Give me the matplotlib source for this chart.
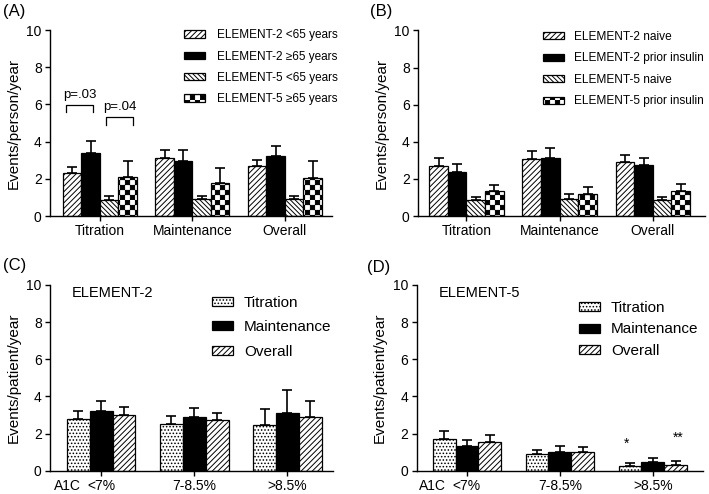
import numpy as np
import matplotlib
matplotlib.use("Agg")
import matplotlib.pyplot as plt
import matplotlib.hatch as mhatch
from matplotlib.path import Path

plt.rcParams['font.family'] = ['Liberation Sans', 'DejaVu Sans']
plt.rcParams['hatch.linewidth'] = 0.7

# ---------------- data ----------------
cats_ab = ['Titration', 'Maintenance', 'Overall']
labels_a = ['ELEMENT-2 <65 years', 'ELEMENT-2 \u226565 years',
            'ELEMENT-5 <65 years', 'ELEMENT-5 \u226565 years']
a_e2_lt65 = [2.32, 3.13, 2.69]
a_e2_lt65_err = [0.32, 0.43, 0.32]
a_e2_ge65 = [3.40, 2.96, 3.23]
a_e2_ge65_err = [0.64, 0.57, 0.51]
a_e5_lt65 = [0.88, 0.90, 0.92]
a_e5_lt65_err = [0.18, 0.18, 0.16]
a_e5_ge65 = [2.10, 1.78, 2.06]
a_e5_ge65_err = [0.86, 0.82, 0.90]

labels_b = ['ELEMENT-2 naive', 'ELEMENT-2 prior insulin',
            'ELEMENT-5 naive', 'ELEMENT-5 prior insulin']
b_e2_naive = [2.72, 3.08, 2.91]
b_e2_naive_err = [0.38, 0.42, 0.36]
b_e2_prior = [2.37, 3.11, 2.73]
b_e2_prior_err = [0.42, 0.53, 0.37]
b_e5_naive = [0.84, 0.91, 0.86]
b_e5_naive_err = [0.21, 0.25, 0.19]
b_e5_prior = [1.34, 1.20, 1.36]
b_e5_prior_err = [0.34, 0.35, 0.35]

cats_cd = ['<7%', '7-8.5%', '>8.5%']
labels_cd = ['Titration', 'Maintenance', 'Overall']
c_tit = [2.78, 2.53, 2.44]
c_tit_err = [0.43, 0.41, 0.86]
c_mai = [3.19, 2.87, 3.12]
c_mai_err = [0.54, 0.48, 1.20]
c_ovr = [3.01, 2.74, 2.89]
c_ovr_err = [0.42, 0.38, 0.89]

d_tit = [1.69, 0.90, 0.25]
d_tit_err = [0.46, 0.23, 0.18]
d_mai = [1.33, 0.99, 0.45]
d_mai_err = [0.32, 0.32, 0.25]
d_ovr = [1.56, 1.00, 0.32]
d_ovr_err = [0.36, 0.29, 0.18]

yticks = [0, 2, 4, 6, 8, 10]


# ---------------- checkerboard hatch ----------------
class CheckerHatch(mhatch.HatchPatternBase):
    def __init__(self, hatch, density):
        self.n = 20 if (hatch and 'O' in hatch) else 0
        self.num_vertices = (self.n * self.n // 2) * 5

    def set_vertices_and_codes(self, vertices, codes):
        n = self.n
        s = 1.0 / n
        e = 0.004
        sq = np.array([[e, e], [s - e, e], [s - e, s - e], [e, s - e], [e, e]])
        k = 0
        for i in range(n):
            for j in range(n):
                if (i + j) % 2 == 0:
                    vertices[k:k + 5] = sq + [i * s, j * s]
                    codes[k:k + 5] = [Path.MOVETO, Path.LINETO, Path.LINETO,
                                      Path.LINETO, Path.CLOSEPOLY]
                    k += 5


mhatch._hatch_types = [t for t in mhatch._hatch_types
                       if t is not mhatch.LargeCircles] + [CheckerHatch]

# ---------------- figure ----------------
fig = plt.figure(figsize=(7.09, 4.94), dpi=100)
W, H = 709, 494


def px_axes(l, r, t, b):
    return fig.add_axes([l / W, 1 - b / H, (r - l) / W, (b - t) / H])


axA = px_axes(50, 332, 30, 216)
axB = px_axes(418, 705, 30.5, 216)
axC = px_axes(50, 333, 285, 470.7)
axD = px_axes(416.7, 703, 285, 470.7)

err_style = dict(ecolor='black', elinewidth=1.2, capsize=3.6, capthick=1.2)


def style_axes(ax, ylabel, xlim):
    ax.set_ylim(0, 10)
    ax.set_yticks(yticks)
    ax.set_xlim(*xlim)
    for s in ['top', 'right']:
        ax.spines[s].set_visible(False)
    for s in ['left', 'bottom']:
        ax.spines[s].set_linewidth(1.0)
    ax.tick_params(axis='both', direction='out', length=3.5, width=1.0,
                   labelsize=10, pad=2.5)
    ax.set_ylabel(ylabel, fontsize=11)
    ax.yaxis.set_label_coords(-0.103, 0.5)


def draw_group(ax, series, errs, styles, labels, width, offsets):
    x = np.arange(3)
    for vals, er, st, lab, off in zip(series, errs, styles, labels, offsets):
        ax.bar(x + off, vals, width, yerr=[np.zeros(3), er], label=lab,
               facecolor=st[0], hatch=st[1], edgecolor='black', linewidth=0.9,
               error_kw=err_style)


styles_ab = [('white', '//////'), ('black', None), ('white', '\\\\\\\\\\\\\\'),
             ('white', 'O')]
offs_ab = [-0.3, -0.1, 0.1, 0.3]

# ---- A ----
draw_group(axA, [a_e2_lt65, a_e2_ge65, a_e5_lt65, a_e5_ge65],
           [a_e2_lt65_err, a_e2_ge65_err, a_e5_lt65_err, a_e5_ge65_err],
           styles_ab, labels_a, 0.2, offs_ab)
style_axes(axA, 'Events/person/year', (-0.54, 2.51))
axA.set_xticks(range(3))
axA.set_xticklabels(cats_ab)
axA.legend(loc='upper left', bbox_to_anchor=(0.475, 1.004), frameon=False,
           fontsize=8.5, handlelength=1.78, handleheight=0.57,
           handletextpad=1.0, labelspacing=0.79, borderpad=0, borderaxespad=0)
# p-value brackets
axA.plot([-0.37, -0.37, -0.08, -0.08], [5.6, 5.95, 5.95, 5.6], color='black', lw=0.9)
axA.text(-0.22, 6.2, 'p=.03', ha='center', va='bottom', fontsize=9.5)
axA.plot([0.065, 0.065, 0.36, 0.36], [4.9, 5.34, 5.34, 4.9], color='black', lw=0.9)
axA.text(0.215, 5.55, 'p=.04', ha='center', va='bottom', fontsize=9.5)

# ---- B ----
draw_group(axB, [b_e2_naive, b_e2_prior, b_e5_naive, b_e5_prior],
           [b_e2_naive_err, b_e2_prior_err, b_e5_naive_err, b_e5_prior_err],
           styles_ab, labels_b, 0.2, offs_ab)
style_axes(axB, 'Events/person/year', (-0.52, 2.56))
axB.set_xticks(range(3))
axB.set_xticklabels(cats_ab)
axB.legend(loc='upper left', bbox_to_anchor=(0.435, 0.997), frameon=False,
           fontsize=8.6, handlelength=1.75, handleheight=0.55,
           handletextpad=0.9, labelspacing=0.79, borderpad=0, borderaxespad=0)

# ---- C / D ----
styles_cd = [('white', '.....'), ('black', None), ('white', '//////')]
offs_cd = [-0.245, 0.0, 0.245]


def finish_cd(ax, title, xlim, legx, legy, lsp):
    style_axes(ax, 'Events/patient/year', xlim)
    ax.set_xticks(range(3))
    ax.set_xticklabels(cats_cd)
    ax.annotate('A1C', xy=(-0.222, 0), xycoords=('data', 'axes fraction'),
                xytext=(0, -6), textcoords='offset points', ha='right',
                va='top', fontsize=10)
    ax.text(0.078, 0.957, title, transform=ax.transAxes, ha='left',
            va='center', fontsize=10.5)
    ax.legend(loc='upper left', bbox_to_anchor=(legx, legy), frameon=False,
              fontsize=11, handlelength=1.37, handleheight=0.52,
              handletextpad=0.72, labelspacing=lsp, borderpad=0,
              borderaxespad=0)


draw_group(axC, [c_tit, c_mai, c_ovr], [c_tit_err, c_mai_err, c_ovr_err],
           styles_cd, labels_cd, 0.245, offs_cd)
finish_cd(axC, 'ELEMENT-2', (-0.55, 2.49), 0.572, 0.942, 0.68)

draw_group(axD, [d_tit, d_mai, d_ovr], [d_tit_err, d_mai_err, d_ovr_err],
           styles_cd, labels_cd, 0.245, offs_cd)
finish_cd(axD, 'ELEMENT-5', (-0.54, 2.54), 0.567, 0.913, 0.48)
axD.text(1.72, 1.05, '*', ha='center', va='bottom', fontsize=10)
axD.text(2.27, 1.38, '**', ha='center', va='bottom', fontsize=10)

# panel letters
for lab, (xp, yp) in zip(['(A)', '(B)', '(C)', '(D)'],
                         [(3, 4), (370, 4), (3, 258), (367, 260)]):
    fig.text(xp / W, 1 - yp / H, lab, ha='left', va='top', fontsize=12)

fig.savefig('out.png', dpi=100)
